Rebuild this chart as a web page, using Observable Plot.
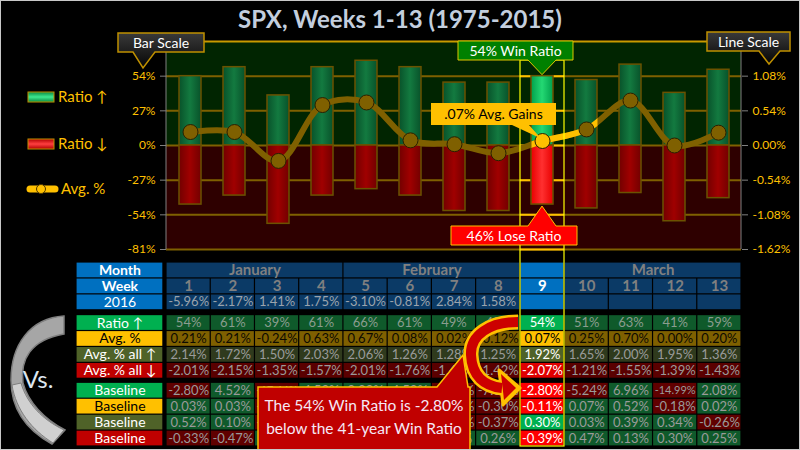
<!DOCTYPE html>
<html><head><meta charset="utf-8">
<script src="https://cdn.jsdelivr.net/npm/d3@7"></script>
<script src="https://cdn.jsdelivr.net/npm/@observablehq/plot@0.6"></script>
<style>
body{margin:0;background:#000;}
#wrap{position:relative;width:800px;height:450px;background:#000;overflow:hidden;font-family:Lato,"Open Sans",sans-serif;}
#wrap > *{position:absolute;left:0;}
#title{top:3px;width:800px;text-align:center;color:#c3cede;font-weight:bold;font-size:24px;line-height:32px;}
#frame{top:0;width:800px;height:450px;box-sizing:border-box;border:1px solid #c8c8c8;pointer-events:none;}
</style></head><body>
<div id="wrap"><div id="title">SPX, Weeks 1-13 (1975-2015)</div></div>
<script>
// ---------- data ----------
const weeks = [1,2,3,4,5,6,7,8,9,10,11,12,13];
const months = ["January","February","March"];
const monthFirst = [1,5,10];
const monthLast = [4,8,13];
const ratioUp   = [54,61,39,61,66,61,49,49,54,51,63,41,59];
const ratioDown = [46,39,61,39,34,39,51,51,46,49,37,59,41];
const avgPct    = [0.21,0.21,-0.24,0.63,0.67,0.08,0.02,-0.12,0.07,0.25,0.70,0.00,0.20];
const ret2016   = [-5.96,-2.17,1.41,1.75,-3.10,-0.81,2.84,1.58,null,null,null,null,null];
const avgAllUp  = [2.14,1.72,1.50,2.03,2.06,1.26,1.28,1.25,1.92,1.65,2.00,1.95,1.36];
const avgAllDown= [-2.01,-2.15,-1.35,-1.57,-2.01,-1.76,-1.49,-1.42,-2.07,-1.21,-1.55,-1.39,-1.43];
const baseRatio = [-2.80,4.52,-17.44,4.52,9.39,4.52,-7.67,-7.67,-2.80,-5.24,6.96,-14.99,2.08];
const baseAvg   = [0.03,0.03,-0.42,0.45,0.49,-0.10,-0.16,-0.30,-0.11,0.07,0.52,-0.18,0.02];
const baseAllUp = [0.52,0.10,-0.12,0.41,0.44,-0.36,-0.34,-0.37,0.30,0.03,0.39,0.34,-0.26];
const baseAllDn = [-0.33,-0.47,0.33,0.11,-0.33,-0.08,0.19,0.26,-0.39,0.47,0.13,0.30,0.25];
const barTicks  = [-81,-54,-27,0,27,54];
const barMax = 81;
const lineMax = 1.62;
const hiWeek = 9;
const rowLabels = [["Month","Week","2016"],["Ratio ↑","Avg. %","Avg. % all ↑","Avg. % all ↓"],["Baseline","Baseline","Baseline","Baseline"]];
const labelFill = ["#0070c0","#0070c0","#0070c0","#00b050","#ffc000","#4f6228","#c00000","#00b050","#ffc000","#4f6228","#c00000"];
const labelInk  = ["#fff","#fff","#fff","#fff","#000","#fff","#fff","#fff","#000","#fff","#fff"];

const wrap = document.getElementById("wrap");
const k = barMax / lineMax; // bar % per line %
const pct = v => v.toFixed(2) + "%";

// ---------- chart ----------
const bars = weeks.map((w,i)=>({week:w, up:ratioUp[i], down:-ratioDown[i], avg:avgPct[i]*k, hi:w===hiWeek}));
const chart = Plot.plot({
  width:800, height:258,
  marginLeft:166, marginRight:59, marginTop:41, marginBottom:9,
  style:{background:"transparent", fontFamily:"Lato, sans-serif", fontSize:"12px", overflow:"visible"},
  x:{type:"band", domain:weeks, paddingInner:0.5, paddingOuter:0.25, axis:null},
  y:{domain:[-barMax,barMax]},
  color:{type:"identity"},
  marks:[
    () => {
      const defs = d3.create("svg:defs");
      const g = (id, a, b) => {
        const lg = defs.append("linearGradient").attr("id",id).attr("x1",0).attr("x2",1).attr("y1",0).attr("y2",0);
        lg.append("stop").attr("offset","0%").attr("stop-color",a);
        lg.append("stop").attr("offset","50%").attr("stop-color",b);
        lg.append("stop").attr("offset","100%").attr("stop-color",a);
      };
      g("gUp","#08522a","#137a40"); g("gDn","#720000","#a00000");
      g("gUpH","#00a04c","#24d873"); g("gDnH","#e80000","#ff3030");
      return defs.node();
    },
    Plot.rect([{lo:0,hi:barMax,c:"#012501"},{lo:-barMax,hi:0,c:"#2e0000"}], {y1:"lo", y2:"hi", fill:"c"}),
    Plot.ruleY(barTicks, {stroke:"#7f6000", strokeWidth:2}),
    Plot.ruleY([barMax], {stroke:"#c99a00", strokeWidth:2}),
    Plot.tickY(barTicks, {x:()=>hiWeek, stroke:"#ffc000", strokeWidth:2, insetLeft:-11.1, insetRight:-11.1}),
    Plot.barY(bars, {x:"week", y:"up", fill:d=>d.hi?"url(#gUpH)":"url(#gUp)", stroke:"#6b5200", strokeWidth:1.5}),
    Plot.barY(bars, {x:"week", y:"down", fill:d=>d.hi?"url(#gDnH)":"url(#gDn)", stroke:"#6b5200", strokeWidth:1.5}),
    Plot.line(bars, {x:"week", y:"avg", curve:"catmull-rom", stroke:"#7f6000", strokeWidth:6}),
    Plot.dot(bars, {x:"week", y:"avg", r:7.5, fill:d=>d.hi?"#ffc000":"#7f6000", stroke:"#2a1f00", strokeWidth:1}),
    Plot.axisY(barTicks.concat([-barMax]).filter((v,i,a)=>a.indexOf(v)===i), {anchor:"left", tickFormat:d=>d+"%", tickSize:6, tickPadding:5, stroke:"#808080", fill:"#ffc000", fontSize:12}),
    Plot.axisY(barTicks.concat([-barMax]).filter((v,i,a)=>a.indexOf(v)===i), {anchor:"right", tickFormat:d=>(d/k).toFixed(2)+"%", tickSize:6, tickPadding:5, stroke:"#808080", fill:"#ffc000", fontSize:12})
  ]
});
chart.style.top = "0px";
wrap.appendChild(chart);

const xs = chart.scale("x"), ys = chart.scale("y");
const bw = xs.bandwidth, stp = xs.step;
const cx = w => xs.apply(w) + bw/2;
const colL = w => xs.apply(w) - (stp-bw)/2;
{
  const svg = d3.select(chart);
  const [y0, y1] = [ys.apply(barMax), ys.apply(-barMax)];
  // axis lines
  svg.append("line").attr("x1",166).attr("x2",166).attr("y1",y0).attr("y2",y1).attr("stroke","#808080");
  svg.append("line").attr("x1",741).attr("x2",741).attr("y1",y0).attr("y2",y1).attr("stroke","#808080");
  // highlighted line section
  svg.append("defs").append("clipPath").attr("id","hiClip").append("rect")
    .attr("x", colL(hiWeek)).attr("width", cx(hiWeek+1)-colL(hiWeek)).attr("y",0).attr("height",258);
  const lp = svg.select('g[aria-label="line"] path');
  if (!lp.empty()) {
    const c = lp.node().cloneNode(true);
    c.setAttribute("stroke","#ffc000"); c.setAttribute("stroke-width",6); c.setAttribute("fill","none");
    c.setAttribute("clip-path","url(#hiClip)");
    lp.node().parentNode.appendChild(c);
  }
}

// ---------- table ----------
const labX1 = -1.535, labX2 = 0.43;
const slots = [];
rowLabels.forEach((grp,g)=>grp.forEach((lab,i)=>slots.push({lab, slot: slots.length + (g>=1?0.3:0) + (g>=2?0.25:0)})));
const cells = [];
slots.forEach((s,r)=>cells.push({x1:labX1, x2:labX2, y1:s.slot, fill:labelFill[r], ink:labelInk[r], t:s.lab, bold:r<2, fs:14}));
const navy = "#0b3a66", blue = "#0070c0";
months.forEach((m,i)=>cells.push({x1:monthFirst[i]-0.5, x2:monthLast[i]+0.5, y1:slots[0].slot, fill:navy, ink:"#808080", t:m, bold:true, fs:15}));
cells.push({x1:hiWeek-0.5, x2:hiWeek+0.5, y1:slots[0].slot, fill:blue, ink:"#fff", t:"", bold:true, fs:14});
weeks.forEach((w,i)=>{
  const hi = w===hiWeek;
  const add = (r, t, fill, ink, hf, hink, fs=13) => cells.push({x1:w-0.5, x2:w+0.5, y1:slots[r].slot, fill: hi?hf:fill, ink: hi?hink:ink, t, bold:r===1, fs});
  add(1, String(w), navy, "#808080", blue, "#fff", 15);
  add(2, ret2016[i]==null ? "" : pct(ret2016[i]), navy, "#9aa3ad", blue, "#fff");
  add(3, ratioUp[i]+"%", "#0f5a2b", "#8a9d8f", "#00b050", "#fff");
  add(4, pct(avgPct[i]), "#7f6000", "#0d0a00", "#ffc000", "#000");
  add(5, pct(avgAllUp[i]), "#2f3a1d", "#9a9a9a", "#4f6228", "#fff");
  add(6, pct(avgAllDown[i]), "#5a0000", "#9a9a9a", "#e00000", "#fff");
  [baseRatio, baseAvg, baseAllUp, baseAllDn].forEach((arr,j)=>{
    const v = arr[i];
    add(7+j, pct(v), v>=0?"#0f5a2b":"#600000", "#9a9a9a", v>=0?"#00b050":"#ff0000", "#fff", Math.abs(v)>=10?11:13);
  });
});
const table = Plot.plot({
  width:800, height:195, margin:0,
  style:{background:"transparent", fontFamily:"Lato, sans-serif"},
  x:{type:"linear", domain:[0.5,13.5], range:[166,741], axis:null},
  y:{type:"linear", domain:[0, slots[slots.length-1].slot+1], range:[7,191], axis:null},
  color:{type:"identity"},
  marks:[
    Plot.rect(cells, {x1:"x1", x2:"x2", y1:"y1", y2:d=>d.y1+1, fill:"fill", inset:0.6}),
    Plot.text(cells.filter(d=>!d.bold), {x:d=>(d.x1+d.x2)/2, y:d=>d.y1+0.5, text:"t", fill:"ink", fontSize:"fs"}),
    Plot.text(cells.filter(d=>d.bold), {x:d=>(d.x1+d.x2)/2, y:d=>d.y1+0.5, text:"t", fill:"ink", fontSize:"fs", fontWeight:"bold"})
  ]
});
table.style.top = "255px";
wrap.appendChild(table);
const tys = table.scale("y");

// ---------- overlay decorations ----------
const ov = d3.select(wrap).append("svg").attr("width",800).attr("height",450).style("top","0px").style("font-family","Lato, sans-serif");
const defs = ov.append("defs");
const bg = defs.append("linearGradient").attr("id","blk").attr("x1",0).attr("x2",0).attr("y1",0).attr("y2",1);
bg.append("stop").attr("offset","0%").attr("stop-color","#3a3a3a"); bg.append("stop").attr("offset","100%").attr("stop-color","#050505");
const lg1 = defs.append("linearGradient").attr("id","lgG").attr("x1",0).attr("x2",0).attr("y1",0).attr("y2",1);
lg1.append("stop").attr("offset","0%").attr("stop-color","#0a8a40"); lg1.append("stop").attr("offset","50%").attr("stop-color","#3ee890"); lg1.append("stop").attr("offset","100%").attr("stop-color","#0a8a40");
const lg2 = defs.append("linearGradient").attr("id","lgR").attr("x1",0).attr("x2",0).attr("y1",0).attr("y2",1);
lg2.append("stop").attr("offset","0%").attr("stop-color","#b00000"); lg2.append("stop").attr("offset","50%").attr("stop-color","#ff4040"); lg2.append("stop").attr("offset","100%").attr("stop-color","#b00000");

// highlight column outline
const hx1 = colL(hiWeek), hx2 = colL(hiWeek)+stp;
const tableBottom = 255 + tys.apply(slots[slots.length-1].slot+1);
ov.append("rect").attr("x",hx1).attr("y",60).attr("width",hx2-hx1).attr("height",tableBottom-60)
  .attr("fill","none").attr("stroke","#ffff00").attr("stroke-width",1.2);

// chart annotations
const cx9 = cx(hiWeek);
const topBar = ys.apply(ratioUp[hiWeek-1]), botBar = ys.apply(-ratioDown[hiWeek-1]);
ov.append("path").attr("d",`M458,41H573V60H${cx9+14}L${cx9},${topBar-1}L${cx9-14},60H458Z`).attr("fill","#008000").attr("stroke","#e0c800").attr("stroke-width",1);
ov.append("text").attr("x",515.5).attr("y",51).attr("dy","0.35em").attr("text-anchor","middle").attr("fill","#fff").attr("font-size",14).text(ratioUp[hiWeek-1]+"% Win Ratio");
ov.append("path").attr("d",`M451,245H577V226H${cx9+14}L${cx9},${botBar+2}L${cx9-14},226H451Z`).attr("fill","#ff0000").attr("stroke","#ffc000").attr("stroke-width",1);
ov.append("text").attr("x",514).attr("y",236).attr("dy","0.35em").attr("text-anchor","middle").attr("fill","#fff").attr("font-size",14).text(ratioDown[hiWeek-1]+"% Lose Ratio");
const avgY = ys.apply(avgPct[hiWeek-1]*k);
ov.append("path").attr("d",`M431,103H556V125H529L${cx9-1},${avgY-2}L512,125H431Z`).attr("fill","#ffc000");
ov.append("text").attr("x",493.5).attr("y",114).attr("dy","0.35em").attr("text-anchor","middle").attr("fill","#000").attr("font-size",14).text(".07% Avg. Gains");

// scale boxes
ov.append("path").attr("d","M118,33H204V52H155L143,68L133,52H118Z").attr("fill","url(#blk)").attr("stroke","#bf9000").attr("stroke-width",1.5);
ov.append("text").attr("x",161).attr("y",43).attr("dy","0.35em").attr("text-anchor","middle").attr("fill","#fff").attr("font-size",14).text("Bar Scale");
ov.append("path").attr("d","M707,32H790V51H780L769,64L759,51H707Z").attr("fill","url(#blk)").attr("stroke","#bf9000").attr("stroke-width",1.5);
ov.append("text").attr("x",748.5).attr("y",42).attr("dy","0.35em").attr("text-anchor","middle").attr("fill","#fff").attr("font-size",14).text("Line Scale");

// legend
ov.append("rect").attr("x",28).attr("y",92).attr("width",26).attr("height",10).attr("fill","url(#lgG)").attr("stroke","#bf9000");
ov.append("text").attr("x",58).attr("y",97).attr("dy","0.35em").attr("fill","#ffc000").attr("font-size",15).text("Ratio ↑");
ov.append("rect").attr("x",28).attr("y",139).attr("width",26).attr("height",10).attr("fill","url(#lgR)").attr("stroke","#bf9000");
ov.append("text").attr("x",58).attr("y",144).attr("dy","0.35em").attr("fill","#ffc000").attr("font-size",15).text("Ratio ↓");
ov.append("line").attr("x1",30).attr("x2",55).attr("y1",189).attr("y2",189).attr("stroke","#ffc000").attr("stroke-width",7).attr("stroke-linecap","round");
ov.append("circle").attr("cx",41).attr("cy",189).attr("r",4.5).attr("fill","#ffc000").attr("stroke","#4a3500");
ov.append("text").attr("x",61).attr("y",189).attr("dy","0.35em").attr("fill","#ffc000").attr("font-size",15).text("Avg. %");

// Vs. crescent
ov.append("path").attr("d","M64,316C30,318 11,345 11,380C11,410 28,431 52,444L65,430C44,419 28,402 23,383C20,360 30,340 64,334Z").attr("fill","#a6a6a6").attr("stroke","#7f7f7f").attr("stroke-width",1.5);
ov.append("path").attr("d","M21,383C27,404 43,420 64,430L53,443C32,430 16,410 12,385Z").attr("fill","#d0d0d0").attr("stroke","#7f7f7f").attr("stroke-width",1);
ov.append("text").attr("x",38).attr("y",380).attr("dy","0.35em").attr("text-anchor","middle").attr("fill","#dde6f0").attr("font-size",24).text("Vs.");

// callout
ov.append("path").attr("d","M258,387H437L463,355L468,387H470V452H258Z").attr("fill","#c00000").attr("stroke","#ffc000").attr("stroke-width",1.5);
ov.append("text").attr("x",364).attr("y",406).attr("dy","0.35em").attr("text-anchor","middle").attr("fill","#f5e8f5").attr("font-size",15.5).text("The 54% Win Ratio is -2.80%");
ov.append("text").attr("x",364).attr("y",429).attr("dy","0.35em").attr("text-anchor","middle").attr("fill","#f5e8f5").attr("font-size",15.5).text("below the 41-year Win Ratio");

// curved arrow
const arrowD = "M518,322C490,322 470,335 471,355C472,376 484,386 502,388";
ov.append("path").attr("d",arrowD).attr("fill","none").attr("stroke","#ffc000").attr("stroke-width",15);
ov.append("path").attr("d","M499,370L520,388L503,405Z").attr("fill","#ffc000").attr("stroke","#ffc000").attr("stroke-width",3).attr("stroke-linejoin","round");
ov.append("path").attr("d",arrowD).attr("fill","none").attr("stroke","#cc0000").attr("stroke-width",10);
ov.append("path").attr("d","M501,374L516,388L504,400Z").attr("fill","#cc0000");

d3.select(wrap).append("div").attr("id","frame");
</script>
</body></html>
